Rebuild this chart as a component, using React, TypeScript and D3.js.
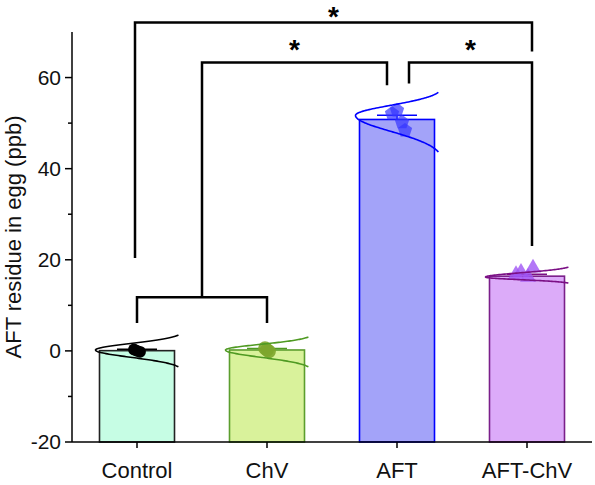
import React from "react";
import * as d3 from "d3";

const categories = ["Control", "ChV", "AFT", "AFT-ChV"];
const barValues = [0.05, 0.2, 50.8, 16.4];
const errValues = [0.3, 0.3, 0.9, 0.4];
const pointValues = [
  [0.3, 0.0, -0.2],
  [0.6, 0.2, -0.1],
  [52.8, 52.1, 50.2, 48.4],
  [17.3, 18.2, 16.2, 16.8],
];
const curveMean = [0.2, 0.2, 51.7, 16.2];
const curveSdUp = [1.42, 1.24, 2.2, 0.95];
const curveSdDown = [1.6, 1.6, 3.5, 0.57];
const yTicks = [-20, 0, 20, 40, 60];
const yMinorTicks = [-10, 10, 30, 50];

// brackets: legs (category groups), heights in data units
const brackets = [
  { left: ["Control"], right: ["AFT-ChV"], top: 72.1, leftEnd: 20.4, rightEnd: 65.7, labelAt: 74.1, dl: -2, dr: 5, label: "*" },
  { left: ["Control", "ChV"], right: ["AFT"], top: 63.3, leftEnd: 11.8, rightEnd: 58.3, labelAt: 66.9, dl: 0, dr: -10, label: "*" },
  { left: ["AFT"], right: ["AFT-ChV"], top: 63.3, leftEnd: 58.7, rightEnd: 23.0, labelAt: 66.9, dl: 12, dr: 5, label: "*" },
  { left: ["Control"], right: ["ChV"], top: 11.8, leftEnd: 6.1, rightEnd: 6.1, labelAt: 0, dl: 0, dr: 0, label: "" },
];

const fills = ["#c6fde4", "#d9f29b", "#a3a3f9", "#dcabf9"];
const strokes = ["#222222", "#5c9e2e", "#0000ff", "#7b1f8a"];
const curveColors = ["#000000", "#4f9a22", "#0000ff", "#7b0f85"];
const markerColors = ["#000000", "#7da62c", "#3434ff", "#a055f5"];
const markerOpacity = [1, 0.9, 0.7, 0.8];
const jitter = [
  [-3, 0, 3],
  [-2, 0, 2],
  [0, -5, 5, 8],
  [-6, 6, 1, -11],
];

const FONT = "'Liberation Sans', Arial, Helvetica, sans-serif";

export default function App() {
  const W = 595, H = 485;
  const y = d3.scaleLinear().domain([-20, 70]).range([442, 32]);
  const x = d3.scaleBand<string>().domain(categories).range([72, 592]).paddingInner(55 / 130).paddingOuter(55 / 260);
  const bw = x.bandwidth();
  const cx = (c: string) => (x(c) as number) + bw / 2;

  const pentagon = (r: number) => {
    const pts: [number, number][] = d3.range(5).map((k) => [(k * 2 * Math.PI) / 5, r]);
    return d3.lineRadial().curve(d3.curveLinearClosed)(pts) as string;
  };

  const markerPath = (i: number) => {
    if (i === 2) return pentagon(7.5);
    if (i === 3) return d3.symbol().type(d3.symbolTriangle).size(110)() as string;
    if (i === 1) return d3.symbol().type(d3.symbolCircle).size(150)() as string;
    return d3.symbol().type(d3.symbolCircle).size(110)() as string;
  };

  const curvePath = (i: number) => {
    const c = categories[i];
    const xl = (x(c) as number) - 4;
    const span = (bw + 8) / 0.93;
    const k = 2.3;
    const pts: [number, number][] = [];
    const n = 60;
    for (let j = -n; j <= n; j++) {
      const t = (j / n) * k;
      const sd = t >= 0 ? curveSdUp[i] : curveSdDown[i];
      const v = curveMean[i] + t * sd;
      const g = Math.exp(-(t * t) / 2);
      pts.push([xl + span * (1 - g), y(v)]);
    }
    return d3.line().curve(d3.curveBasis)(pts) as string;
  };

  return (
    <svg width={W} height={H} style={{ display: "block", position: "absolute", left: 0, top: 0 }} fontFamily={FONT}>
      <rect width={W} height={H} fill="#fff" />
      {/* bars */}
      {categories.map((c, i) => (
        <rect
          key={c}
          x={x(c)}
          y={y(Math.max(0, barValues[i])) }
          width={bw}
          height={y(-20) - y(barValues[i])}
          fill={fills[i]}
          stroke={strokes[i]}
          strokeWidth={1.6}
        />
      ))}
      {/* error bars */}
      {categories.map((c, i) => (
        <g key={"e" + c} stroke={curveColors[i]} strokeWidth={1.5}>
          <line x1={cx(c)} x2={cx(c)} y1={y(barValues[i])} y2={y(barValues[i] + errValues[i])} />
          <line x1={cx(c) - 20} x2={cx(c) + 20} y1={y(barValues[i] + errValues[i])} y2={y(barValues[i] + errValues[i])} />
        </g>
      ))}
      {/* points */}
      {categories.map((c, i) => (
        <g key={"p" + c}>
          {pointValues[i].map((v, j) => (
            <path
              key={j}
              d={markerPath(i)}
              transform={`translate(${cx(c) + jitter[i][j]},${y(v)})`}
              fill={markerColors[i]}
              fillOpacity={markerOpacity[i]}
            />
          ))}
        </g>
      ))}
      {/* curves */}
      {categories.map((c, i) => (
        <path key={"c" + c} d={curvePath(i)} fill="none" stroke={curveColors[i]} strokeWidth={1.6} />
      ))}
      {/* axes */}
      <line x1={72} x2={72} y1={y(70)} y2={y(-20)} stroke="#000" strokeWidth={1.5} />
      <line x1={72} x2={592} y1={y(-20)} y2={y(-20)} stroke="#000" strokeWidth={1.5} />
      {yTicks.map((t) => (
        <g key={"yt" + t}>
          <line x1={65} x2={72} y1={y(t)} y2={y(t)} stroke="#000" strokeWidth={1.5} />
          <text x={61} y={y(t)} dy="0.35em" textAnchor="end" fontSize={21} fill="#111">
            {t}
          </text>
        </g>
      ))}
      {yMinorTicks.map((t) => (
        <line key={"ym" + t} x1={68} x2={72} y1={y(t)} y2={y(t)} stroke="#000" strokeWidth={1.5} />
      ))}
      {categories.map((c) => (
        <g key={"xt" + c}>
          <line x1={cx(c)} x2={cx(c)} y1={y(-20)} y2={y(-20) + 6} stroke="#000" strokeWidth={1.5} />
          <text x={cx(c)} y={478} textAnchor="middle" fontSize={22} fill="#111">
            {c}
          </text>
        </g>
      ))}
      <text transform="translate(21,237) rotate(-90)" textAnchor="middle" fontSize={22} fill="#111">
        AFT residue in egg (ppb)
      </text>
      {/* brackets */}
      {brackets.map((b, i) => {
        const xl = d3.mean(b.left.map(cx)) as number + b.dl;
        const xr = d3.mean(b.right.map(cx)) as number + b.dr;
        const p = d3.path();
        p.moveTo(xl, y(b.leftEnd));
        p.lineTo(xl, y(b.top));
        p.lineTo(xr, y(b.top));
        p.lineTo(xr, y(b.rightEnd));
        return (
          <g key={"b" + i}>
            <path d={p.toString()} fill="none" stroke="#000" strokeWidth={2.5} />
            {b.label && (
              <text x={(xl + xr) / 2} y={y(b.labelAt) + 12.5} textAnchor="middle" fontSize={28} fontWeight="bold" fill="#000">
                {b.label}
              </text>
            )}
          </g>
        );
      })}
    </svg>
  );
}
